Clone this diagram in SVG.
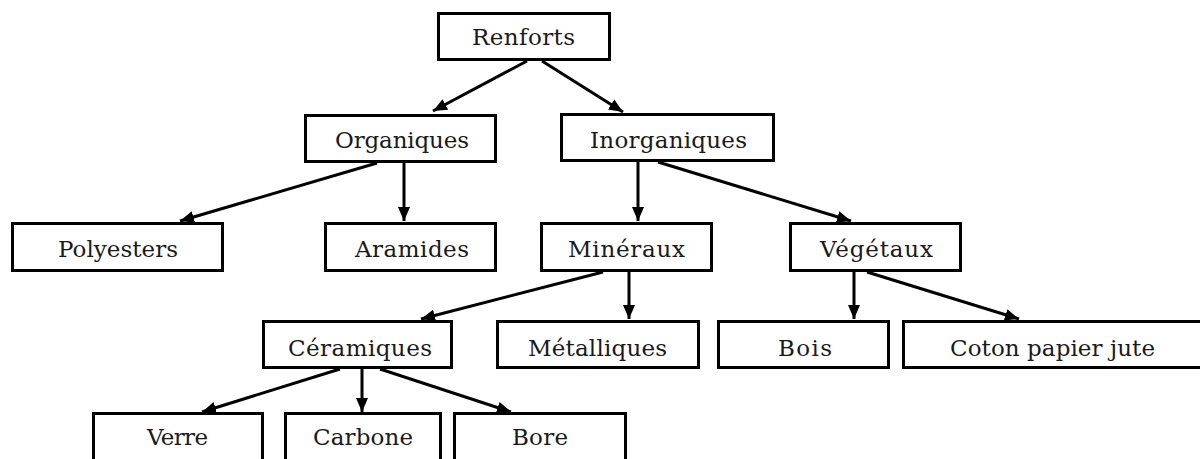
<svg xmlns="http://www.w3.org/2000/svg" width="1200" height="459" viewBox="0 0 1200 459">
<style>
.box{fill:#fff;stroke:#000;stroke-width:3}
.lbl{font-family:"DejaVu Serif","Liberation Serif",serif;font-size:23px;fill:#1a1a1a;text-anchor:middle}
.con{stroke:#000;stroke-width:3;fill:none;marker-end:url(#ah)}
</style>
<defs>
<marker id="ah" markerUnits="userSpaceOnUse" markerWidth="16" markerHeight="14" refX="14" refY="7" orient="auto">
<path d="M0,1 L14,7 L0,13 Z" fill="#000"/>
</marker>
</defs>
<rect width="1200" height="459" fill="#fff"/>
<g id="connectors">
<line class="con" x1="527" y1="61" x2="433" y2="111"/>
<line class="con" x1="542" y1="61" x2="623" y2="112"/>
<line class="con" x1="377" y1="163" x2="180" y2="221"/>
<line class="con" x1="404" y1="163" x2="404" y2="221"/>
<line class="con" x1="638" y1="162" x2="638" y2="221"/>
<line class="con" x1="658" y1="162" x2="851" y2="221"/>
<line class="con" x1="603" y1="272" x2="421" y2="319"/>
<line class="con" x1="629" y1="272" x2="629" y2="319"/>
<line class="con" x1="854" y1="272" x2="854" y2="319"/>
<line class="con" x1="867" y1="272" x2="1019" y2="319"/>
<line class="con" x1="340" y1="369" x2="202" y2="412"/>
<line class="con" x1="362" y1="369" x2="362" y2="412"/>
<line class="con" x1="380" y1="369" x2="511" y2="412"/>
</g>
<g id="n-renforts"><rect class="box" x="438.5" y="13.5" width="171" height="46"/><text class="lbl" x="523.5" y="45" textLength="103">Renforts</text></g>
<g id="n-organiques"><rect class="box" x="305.5" y="115.5" width="190" height="46"/><text class="lbl" x="402" y="148" textLength="134">Organiques</text></g>
<g id="n-inorganiques"><rect class="box" x="561.5" y="114.5" width="212" height="46"/><text class="lbl" x="668.5" y="148" textLength="157">Inorganiques</text></g>
<g id="n-polyesters"><rect class="box" x="12.5" y="223.5" width="210" height="47"/><text class="lbl" x="118" y="257" textLength="120">Polyesters</text></g>
<g id="n-aramides"><rect class="box" x="325.5" y="223.5" width="170" height="47"/><text class="lbl" x="412" y="257" textLength="114">Aramides</text></g>
<g id="n-mineraux"><rect class="box" x="541.5" y="223.5" width="170" height="47"/><text class="lbl" x="626.5" y="257" textLength="117">Minéraux</text></g>
<g id="n-vegetaux"><rect class="box" x="790.5" y="223.5" width="170" height="47"/><text class="lbl" x="876.5" y="257" textLength="113">Végétaux</text></g>
<g id="n-ceramiques"><rect class="box" x="263.5" y="321.5" width="188" height="46"/><text class="lbl" x="360" y="356" textLength="144">Céramiques</text></g>
<g id="n-metalliques"><rect class="box" x="497.5" y="321.5" width="201" height="46"/><text class="lbl" x="597.5" y="356" textLength="139">Métalliques</text></g>
<g id="n-bois"><rect class="box" x="718.5" y="321.5" width="170" height="46"/><text class="lbl" x="805" y="356" textLength="54">Bois</text></g>
<g id="n-coton"><rect class="box" x="903.5" y="321.5" width="300" height="46"/><text class="lbl" x="1052.5" y="356" textLength="205">Coton papier jute</text></g>
<g id="n-verre"><rect class="box" x="93.5" y="413.5" width="169" height="60"/><text class="lbl" x="177.5" y="445" textLength="61">Verre</text></g>
<g id="n-carbone"><rect class="box" x="285.5" y="413.5" width="155" height="60"/><text class="lbl" x="363" y="445" textLength="100">Carbone</text></g>
<g id="n-bore"><rect class="box" x="454.5" y="413.5" width="171" height="60"/><text class="lbl" x="540" y="445" textLength="56">Bore</text></g>
</svg>
